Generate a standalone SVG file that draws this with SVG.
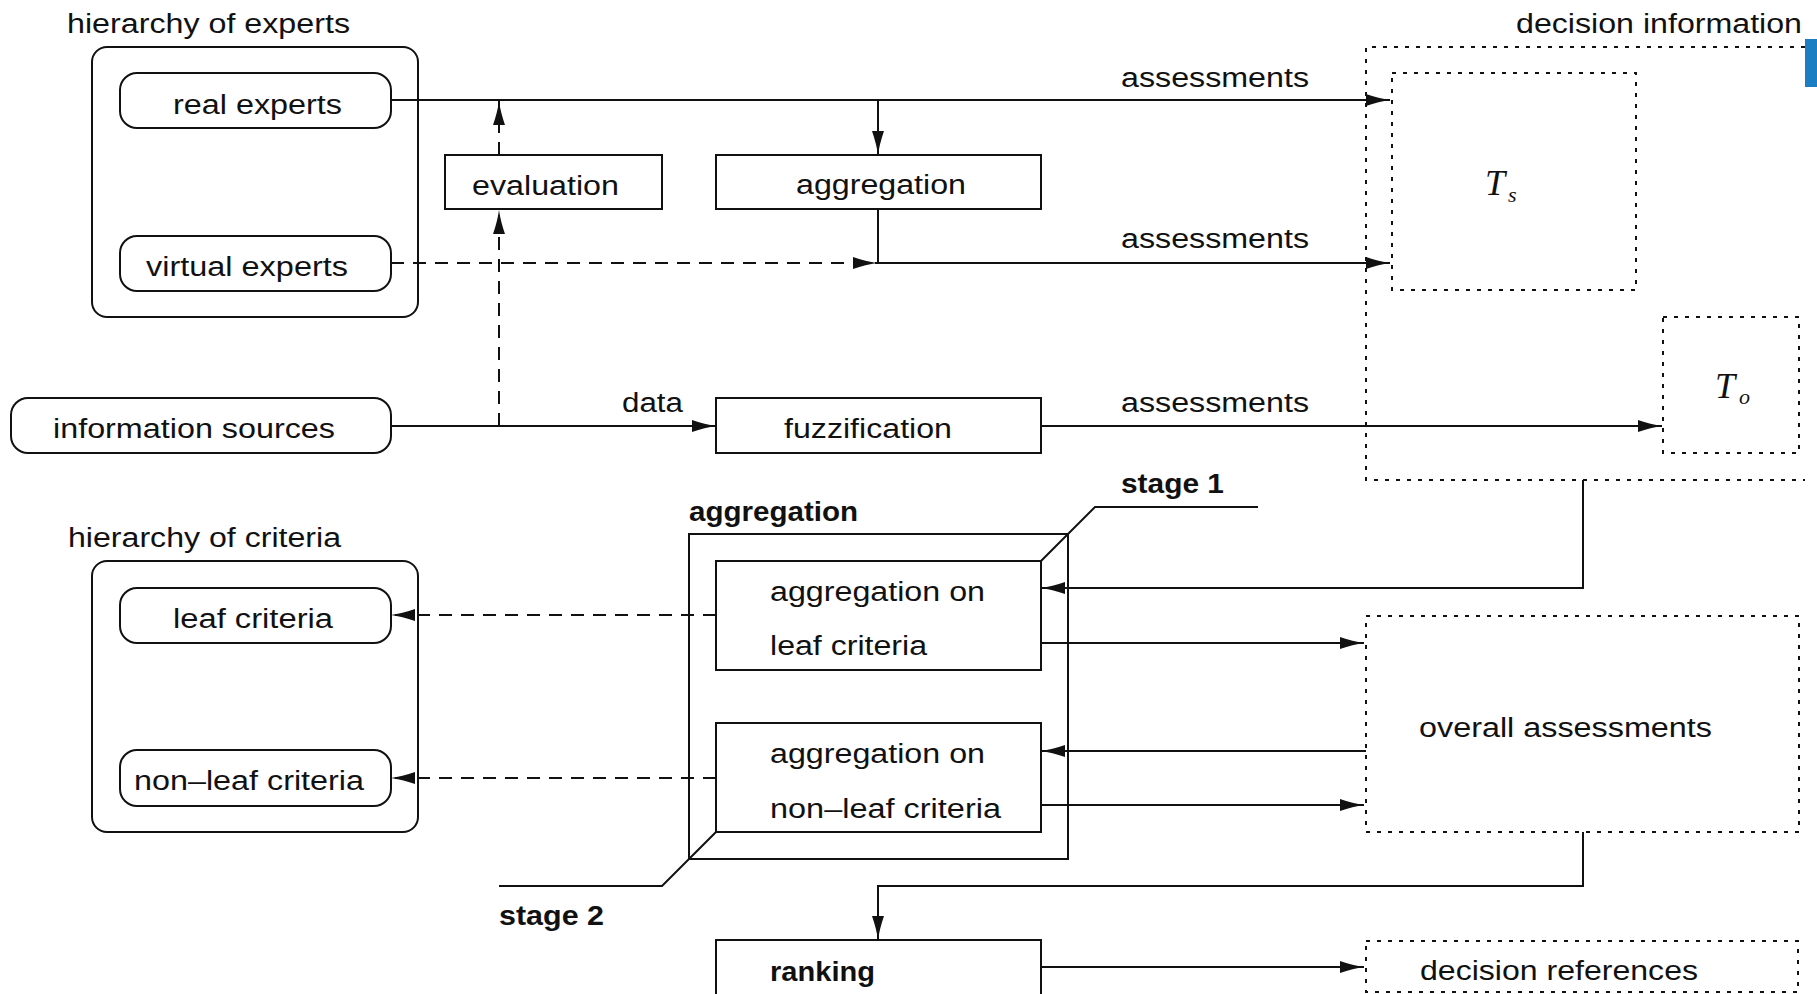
<svg xmlns="http://www.w3.org/2000/svg" width="1817" height="994" viewBox="0 0 1817 994">
  <style>
    .bg { fill: #ffffff; }
    .box { fill: none; stroke: #111; stroke-width: 2; }
    .dot { fill: none; stroke: #111; stroke-width: 2; stroke-dasharray: 4 7; }
    .ln { fill: none; stroke: #111; stroke-width: 2; }
    .dash { fill: none; stroke: #111; stroke-width: 2; stroke-dasharray: 13 9; }
    .t { font-family: "Liberation Sans", Arial, sans-serif; font-size: 27px; fill: #111; }
    .b { font-family: "Liberation Sans", Arial, sans-serif; font-size: 27px; font-weight: bold; fill: #111; }
    .m { font-family: "Liberation Serif", "Times New Roman", serif; font-style: italic; fill: #111; }
  </style>
  <defs>
    <marker id="arr" viewBox="0 0 24 12" refX="24" refY="6" markerWidth="24" markerHeight="12" markerUnits="userSpaceOnUse" orient="auto">
      <path d="M0,0 Q13,4.5 24,6 Q13,7.5 0,12 Z" fill="#111" stroke="none"/>
    </marker>
  </defs>

  <rect class="bg" x="0" y="0" width="1817" height="994"/>

  <!-- experts -->
  <g id="experts">
    <text class="t" x="67" y="33" textLength="283" lengthAdjust="spacingAndGlyphs">hierarchy of experts</text>
    <rect class="box" x="92" y="47" width="326" height="270" rx="15"/>
  </g>
  <g id="real-experts">
    <rect class="box" x="120" y="73" width="271" height="55" rx="17"/>
    <text class="t" x="173" y="114" textLength="169" lengthAdjust="spacingAndGlyphs">real experts</text>
  </g>
  <g id="virtual-experts">
    <rect class="box" x="120" y="236" width="271" height="55" rx="17"/>
    <text class="t" x="146" y="276" textLength="202" lengthAdjust="spacingAndGlyphs">virtual experts</text>
  </g>
  <g id="information-sources">
    <rect class="box" x="11" y="398" width="380" height="55" rx="17"/>
    <text class="t" x="53" y="438" textLength="282" lengthAdjust="spacingAndGlyphs">information sources</text>
  </g>
  <g id="evaluation">
    <rect class="box" x="445" y="155" width="217" height="54"/>
    <text class="t" x="472" y="195" textLength="147" lengthAdjust="spacingAndGlyphs">evaluation</text>
  </g>
  <g id="aggregation-top">
    <rect class="box" x="716" y="155" width="325" height="54"/>
    <text class="t" x="796" y="194" textLength="170" lengthAdjust="spacingAndGlyphs">aggregation</text>
  </g>
  <g id="fuzzification">
    <rect class="box" x="716" y="398" width="325" height="55"/>
    <text class="t" x="784" y="438" textLength="168" lengthAdjust="spacingAndGlyphs">fuzzification</text>
  </g>

  <!-- decision information -->
  <g id="decision-information">
    <text class="t" x="1516" y="33" textLength="286" lengthAdjust="spacingAndGlyphs">decision information</text>
    <path class="dot" d="M1805,47 H1366 V480 H1805"/>
  </g>
  <g id="ts">
    <rect class="dot" x="1392" y="73" width="244" height="217"/>
    <text class="m" x="1485" y="195" font-size="36">T</text>
    <text class="m" x="1508" y="202" font-size="22">s</text>
  </g>
  <g id="to">
    <rect class="dot" x="1663" y="317" width="136" height="136"/>
    <text class="m" x="1715" y="398" font-size="36">T</text>
    <text class="m" x="1739" y="404" font-size="22">o</text>
  </g>
  <rect x="1805" y="39" width="12" height="48" fill="#1b7ec2"/>

  <!-- criteria -->
  <g id="criteria">
    <text class="t" x="68" y="547" textLength="273" lengthAdjust="spacingAndGlyphs">hierarchy of criteria</text>
    <rect class="box" x="92" y="561" width="326" height="271" rx="15"/>
  </g>
  <g id="leaf-criteria">
    <rect class="box" x="120" y="588" width="271" height="55" rx="17"/>
    <text class="t" x="173" y="628" textLength="160" lengthAdjust="spacingAndGlyphs">leaf criteria</text>
  </g>
  <g id="non-leaf-criteria">
    <rect class="box" x="120" y="750" width="271" height="56" rx="17"/>
    <text class="t" x="134" y="790" textLength="230" lengthAdjust="spacingAndGlyphs">non–leaf criteria</text>
  </g>

  <!-- two-stage aggregation -->
  <g id="aggregation">
    <text class="b" x="689" y="521" textLength="169" lengthAdjust="spacingAndGlyphs">aggregation</text>
    <rect class="box" x="689" y="534" width="379" height="325"/>
  </g>
  <g id="aggregation-leaf">
    <rect class="box" x="716" y="561" width="325" height="109"/>
    <text class="t" x="770" y="601" textLength="215" lengthAdjust="spacingAndGlyphs">aggregation on</text>
    <text class="t" x="770" y="655" textLength="157" lengthAdjust="spacingAndGlyphs">leaf criteria</text>
  </g>
  <g id="aggregation-non-leaf">
    <rect class="box" x="716" y="723" width="325" height="109"/>
    <text class="t" x="770" y="763" textLength="215" lengthAdjust="spacingAndGlyphs">aggregation on</text>
    <text class="t" x="770" y="818" textLength="231" lengthAdjust="spacingAndGlyphs">non–leaf criteria</text>
  </g>
  <g id="stage-1">
    <text class="b" x="1121" y="493" textLength="103" lengthAdjust="spacingAndGlyphs">stage 1</text>
    <path class="ln" d="M1041,561 L1095,507 H1258"/>
  </g>
  <g id="stage-2">
    <text class="b" x="499" y="925" textLength="105" lengthAdjust="spacingAndGlyphs">stage 2</text>
    <path class="ln" d="M716,832 L662,886 H499"/>
  </g>
  <g id="overall-assessments">
    <rect class="dot" x="1366" y="616" width="433" height="216"/>
    <text class="t" x="1419" y="737" textLength="293" lengthAdjust="spacingAndGlyphs">overall assessments</text>
  </g>
  <g id="ranking">
    <rect class="box" x="716" y="940" width="325" height="56"/>
    <text class="b" x="770" y="981" textLength="105" lengthAdjust="spacingAndGlyphs">ranking</text>
  </g>
  <g id="decision-references">
    <rect class="dot" x="1366" y="941" width="432" height="51"/>
    <text class="t" x="1420" y="980" textLength="278" lengthAdjust="spacingAndGlyphs">decision references</text>
  </g>

  <!-- connectors -->
  <g id="connectors">
    <path class="ln" d="M391,100 H1390" marker-end="url(#arr)"/>
    <path class="ln" d="M878,100 V155" marker-end="url(#arr)"/>
    <path class="dash" d="M391,263 H877" marker-end="url(#arr)"/>
    <path class="ln" d="M878,209 V263 H1390" marker-end="url(#arr)"/>
    <path class="ln" d="M391,426 H716" marker-end="url(#arr)"/>
    <path class="ln" d="M1041,426 H1662" marker-end="url(#arr)"/>
    <path class="dash" d="M499,426 V210" marker-end="url(#arr)"/>
    <path class="dash" d="M499,155 V101" marker-end="url(#arr)"/>
    <text class="t" x="622" y="412" textLength="61" lengthAdjust="spacingAndGlyphs">data</text>
    <text class="t" x="1121" y="87" textLength="188" lengthAdjust="spacingAndGlyphs">assessments</text>
    <text class="t" x="1121" y="248" textLength="188" lengthAdjust="spacingAndGlyphs">assessments</text>
    <text class="t" x="1121" y="412" textLength="188" lengthAdjust="spacingAndGlyphs">assessments</text>
    <path class="ln" d="M1583,480 V588 H1041" marker-end="url(#arr)"/>
    <path class="ln" d="M1041,643 H1364" marker-end="url(#arr)"/>
    <path class="ln" d="M1366,751 H1041" marker-end="url(#arr)"/>
    <path class="ln" d="M1041,805 H1364" marker-end="url(#arr)"/>
    <path class="ln" d="M1583,832 V886 H878 V940" marker-end="url(#arr)"/>
    <path class="ln" d="M1041,967 H1364" marker-end="url(#arr)"/>
    <path class="dash" d="M716,615 H391" marker-end="url(#arr)"/>
    <path class="dash" d="M716,778 H391" marker-end="url(#arr)"/>
  </g>
</svg>
